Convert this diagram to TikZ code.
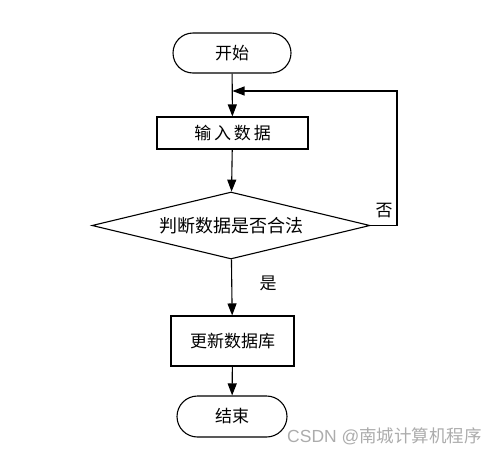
\documentclass[tikz,border=0pt]{standalone}
\usepackage{fontspec}
\setmainfont{Noto Sans CJK SC}
\newfontfamily\wmfont{Liberation Sans}
\usetikzlibrary{shapes.geometric,shapes.misc,arrows.meta}
\begin{document}
\begin{tikzpicture}[x=1pt,y=-1pt,
  every node/.style={font=\fontsize{17}{19}\selectfont},
  term/.style={draw,line width=1.1pt,rounded rectangle,minimum width=118pt,minimum height=40pt,inner sep=0pt},
  proc/.style={draw,line width=1.1pt,rectangle,inner sep=0pt},
  dec/.style={draw,line width=1.1pt,diamond,aspect=4.15,minimum width=278pt,minimum height=67pt,inner sep=0pt},
  conn/.style={line width=1.1pt,-{Triangle[length=12pt,width=9pt]}},
  lbl/.style={inner sep=0pt}]
\useasboundingbox (0,0) rectangle (500,453);
\node[term] (start) at (232,53) {开始};
\node[proc,minimum width=151pt,minimum height=32pt] (input) at (232.5,133) {输\,入\,数\,据};
\node[dec,font=\fontsize{18}{20}\selectfont] (check) at (231,225.5) {判断数据是否合法};
\node[proc,minimum width=123pt,minimum height=50pt] (update) at (232.5,341) {更新数据库};
\node[term,minimum width=110pt,minimum height=41pt] (end) at (232,416.5) {结束};
\coordinate (j) at (input.north |- 0,91);
\coordinate (r) at (397,225.5);
\coordinate (rt) at (397,91);
\draw[conn] (start) -- (input);
\draw[conn] (input) -- (check);
\draw[conn] (check) -- (update);
\draw[conn] (update) -- (end);
\draw[conn] (check.east) -- (r) -- (rt) -- (j);
\node[lbl] (no) at (384,211) {否};
\node[lbl] (yes) at (268,283) {是};
\node[lbl,text=gray!65,anchor=west] (wm) at (287,436) {\wmfont\fontsize{17.5}{19}\selectfont CSDN @\fontspec{Noto Sans CJK SC}南城计算机程序};
\end{tikzpicture}
\end{document}
